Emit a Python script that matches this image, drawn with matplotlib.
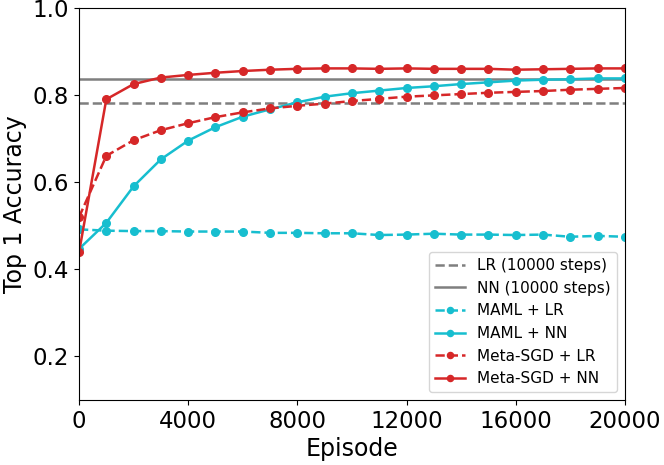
import matplotlib
matplotlib.use("Agg")
import matplotlib.pyplot as plt
import numpy as np

episodes = list(range(0, 20001, 1000))
lr_baseline = 0.783
nn_baseline = 0.838
maml_lr = [0.492, 0.489, 0.488, 0.488, 0.487, 0.487, 0.487, 0.484, 0.484, 0.483, 0.483,
           0.479, 0.480, 0.482, 0.480, 0.480, 0.479, 0.480, 0.475, 0.477, 0.475]
maml_nn = [0.447, 0.507, 0.591, 0.653, 0.696, 0.727, 0.751, 0.768, 0.784, 0.797, 0.805,
           0.811, 0.817, 0.821, 0.826, 0.830, 0.834, 0.836, 0.837, 0.839, 0.839]
meta_lr = [0.520, 0.661, 0.697, 0.720, 0.736, 0.750, 0.761, 0.770, 0.776, 0.781, 0.787,
           0.792, 0.797, 0.800, 0.803, 0.806, 0.808, 0.810, 0.813, 0.815, 0.817]
meta_nn = [0.439, 0.791, 0.826, 0.841, 0.847, 0.852, 0.856, 0.859, 0.861, 0.862, 0.862,
           0.861, 0.862, 0.861, 0.861, 0.861, 0.859, 0.860, 0.861, 0.862, 0.862]

fig = plt.figure(figsize=(6.64, 4.65), dpi=100)
ax = fig.add_axes([0.119, 0.140, 0.822, 0.842])

gray = "#7f7f7f"
cyan = "#17becf"
red = "#d62728"
lw = 1.8
ms = 5.5

ax.axhline(lr_baseline, color=gray, linestyle="--", linewidth=lw, label="LR (10000 steps)")
ax.axhline(nn_baseline, color=gray, linestyle="-", linewidth=lw, label="NN (10000 steps)")
ax.plot(episodes, maml_lr, color=cyan, linestyle="--", marker="o", markersize=ms, linewidth=lw, label="MAML + LR")
ax.plot(episodes, maml_nn, color=cyan, linestyle="-", marker="o", markersize=ms, linewidth=lw, label="MAML + NN")
ax.plot(episodes, meta_lr, color=red, linestyle="--", marker="o", markersize=ms, linewidth=lw, label="Meta-SGD + LR")
ax.plot(episodes, meta_nn, color=red, linestyle="-", marker="o", markersize=ms, linewidth=lw, label="Meta-SGD + NN")

ax.set_xlim(0, 20000)
ax.set_ylim(0.1, 1.0)
ax.set_xticks([0, 4000, 8000, 12000, 16000, 20000])
ax.set_yticks([0.2, 0.4, 0.6, 0.8, 1.0])
ax.tick_params(labelsize=16.5)
ax.set_xlabel("Episode", fontsize=17, labelpad=3)
ax.set_ylabel("Top 1 Accuracy", fontsize=17, labelpad=4)
ax.legend(loc="lower right", fontsize=11, markerscale=0.8)

fig.savefig("out.png", dpi=100)
